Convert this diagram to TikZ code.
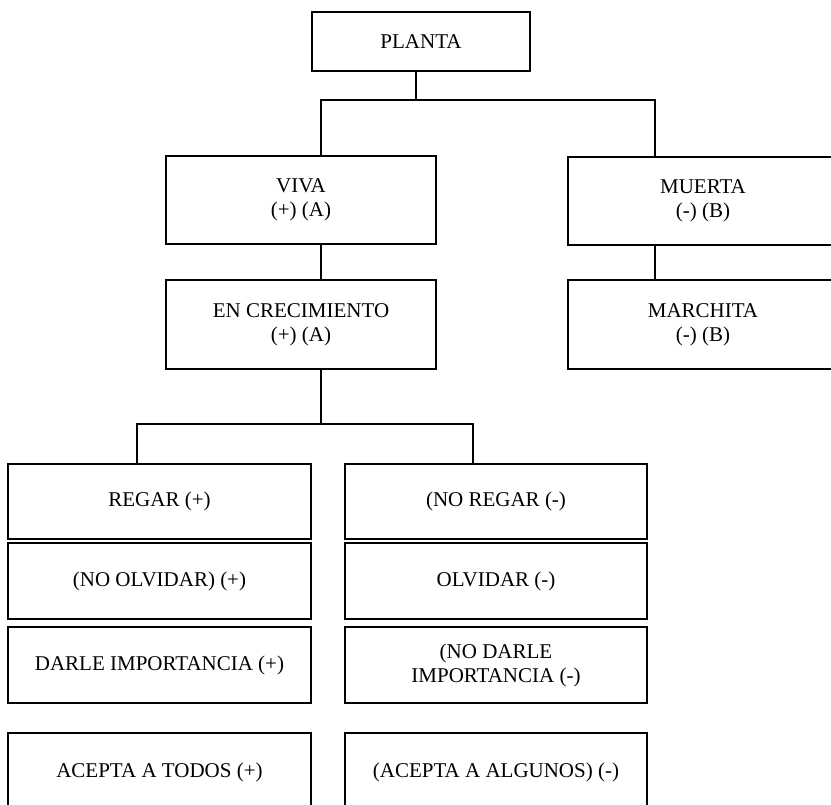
\documentclass[tikz,border=0pt]{standalone}
\usepackage{fontspec}
\setmainfont{Liberation Serif}
\usepackage{tikz}

\begin{document}
\begin{tikzpicture}[x=1pt, y=-1pt, line width=1.2pt,
    every node/.style={font=\fontsize{21}{24}\selectfont, align=center}]
  \tikzstyle{cbox}=[rectangle,draw,inner sep=0pt]
  \clip (0,0) rectangle (831,805);
  % upper tree
  \node[cbox, minimum width=218pt, minimum height=59pt] (planta) at (421,41.5) {PLANTA};
  \node[cbox, minimum width=270pt, minimum height=88pt] (viva) at (301,200) {VIVA\\(+) (A)};
  \node[cbox, minimum width=270pt, minimum height=89pt] (crec) at (301,324.5) {EN CRECIMIENTO\\(+) (A)};
  \node[cbox, minimum width=270pt, minimum height=88pt] (muerta) at (703,201) {MUERTA\\(-) (B)};
  \node[cbox, minimum width=270pt, minimum height=89pt] (marchita) at (703,324.5) {MARCHITA\\(-) (B)};
  % two columns of boxes
  \foreach \i/\y/\h/\left/\right in {1/501.5/75/{REGAR (+)}/{(NO REGAR (-)},
      2/581/76/{(NO OLVIDAR) (+)}/{OLVIDAR (-)},
      3/665/76/{DARLE IMPORTANCIA (+)}/{(NO DARLE\\IMPORTANCIA (-)},
      4/772/78/{ACEPTA A TODOS (+)}/{(ACEPTA A ALGUNOS) (-)}} {
    \node[cbox, minimum width=303pt, minimum height=\h pt] (l\i) at (159.5,\y) {\left};
    \node[cbox, minimum width=302pt, minimum height=\h pt] (r\i) at (496,\y) {\right};
  }
  % junctions
  \coordinate (jt) at (416,100);
  \coordinate (vl) at (321,100);
  \coordinate (mr) at (655,100);
  \coordinate (jb) at (321,424);
  \coordinate (bl) at (137,424);
  \coordinate (br) at (473,424);
  \draw (jt |- planta.south) -- (jt);
  \draw (vl |- viva.north) -- (vl) -- (mr) -- (mr |- muerta.north);
  \draw (vl |- viva.south) -- (vl |- crec.north);
  \draw (mr |- muerta.south) -- (mr |- marchita.north);
  \draw (jb |- crec.south) -- (jb);
  \draw (bl |- l1.north) -- (bl) -- (br) -- (br |- r1.north);
\end{tikzpicture}
\end{document}
